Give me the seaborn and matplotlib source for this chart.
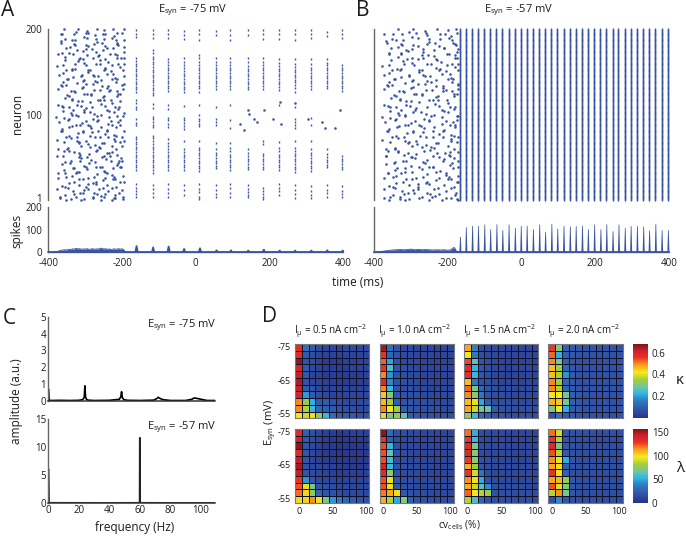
# Network raster, spectra and synchrony maps
import numpy as np
import pandas as pd
import matplotlib
matplotlib.use('Agg')
import matplotlib.pyplot as plt
import seaborn as sns
from matplotlib.colors import LinearSegmentedColormap
from matplotlib.transforms import ScaledTranslation

sns.set_theme(style='white')
plt.rcParams['font.family'] = ['Open Sans', 'DejaVu Sans']
plt.rcParams['mathtext.default'] = 'regular'
plt.rcParams['axes.linewidth'] = 0.8
plt.rcParams['axes.unicode_minus'] = False

# --- raster A: asynchronous part, spike times (ms) per neuron row
a_rows = [198, 192, 186, 180, 174, 168, 162, 156, 150, 144, 138, 132, 126, 120, 114, 108, 102,
          96, 90, 84, 78, 72, 66, 60, 54, 48, 42, 36, 30, 24, 18, 12, 6, 2]
a_async = [
    [-365, -352, -331, -318, -302, -287, -268, -257, -241, -226, -211, -200],
    [-359, -341, -326, -309, -296, -279, -263, -248, -233, -219, -203],
    [-371, -353, -337, -322, -301, -291, -274, -256, -243, -224, -212, -198],
    [-362, -347, -329, -316, -299, -284, -270, -251, -238, -220, -206, -196],
    [-368, -344, -335, -311, -293, -278, -261, -249, -229, -215, -201],
    [-372, -357, -339, -320, -306, -289, -272, -258, -236, -222, -208, -199],
    [-364, -349, -327, -314, -297, -281, -266, -246, -231, -217, -204],
    [-370, -355, -333, -324, -304, -292, -275, -254, -242, -225, -210, -198],
    [-361, -343, -330, -310, -298, -283, -264, -250, -234, -218, -203],
    [-367, -351, -336, -319, -302, -286, -269, -259, -239, -223, -207, -197],
    [-373, -358, -340, -325, -308, -295, -277, -262, -245, -228, -213, -200],
    [-363, -346, -332, -315, -300, -282, -267, -252, -235, -216, -205],
    [-369, -354, -338, -321, -305, -290, -273, -255, -240, -227, -209, -198],
    [-360, -345, -328, -312, -294, -280, -265, -247, -232, -221, -202],
    [-371, -356, -342, -323, -307, -288, -271, -260, -244, -230, -214, -199],
    [-365, -350, -334, -317, -301, -285, -276, -253, -237, -219, -204],
    [-374, -359, -344, -326, -309, -296, -279, -263, -248, -226, -211, -197],
    [-362, -347, -331, -313, -299, -284, -268, -251, -233, -217, -201],
    [-368, -353, -337, -320, -303, -291, -274, -257, -242, -224, -208, -198],
    [-372, -357, -341, -327, -310, -292, -278, -261, -246, -229, -215, -200],
    [-364, -348, -330, -316, -298, -283, -266, -249, -236, -220, -205],
    [-370, -352, -335, -322, -304, -287, -270, -256, -239, -225, -210, -197],
    [-361, -345, -328, -311, -295, -280, -263, -247, -231, -216, -202],
    [-373, -355, -339, -319, -306, -289, -273, -258, -243, -227, -212, -199],
    [-366, -350, -333, -315, -300, -285, -269, -252, -234, -221, -206],
    [-371, -358, -342, -325, -308, -293, -276, -260, -245, -230, -213, -198],
    [-363, -346, -329, -312, -297, -281, -264, -250, -235, -218, -203],
    [-369, -354, -336, -321, -305, -288, -272, -255, -240, -223, -208, -199],
    [-360, -343, -326, -314, -294, -279, -262, -246, -232, -219, -201],
    [-372, -356, -340, -323, -307, -290, -275, -259, -241, -226, -211, -197],
    [-365, -349, -332, -317, -299, -284, -267, -253, -237, -222, -204],
    [-370, -351, -338, -318, -302, -291, -271, -257, -244, -228, -209, -198],
    [-374, -357, -335, -324, -309, -286, -274, -261, -238, -225, -214, -200],
    [-367, -347, -330, -313, -296, -282, -265, -248, -233, -216, -202],
]
# the dots do not sit on rows: read-off offsets in ms and in neurons
dot_dt = [
    [3, -5, 6, -2, 7, -6, 1, 5, -7, 2, -4, 6],
    [-6, 4, -3, 7, -1, 5, -7, 3, 6, -4, 2, -5],
    [5, -2, 7, -6, 3, -4, 6, 1, -5, 7, -3, 2],
    [-3, 7, 1, -5, 6, 2, -7, 4, -2, 5, -6, 3],
    [6, -7, 2, 4, -5, 7, -1, -4, 5, -3, 6, -2],
    [-1, 3, -6, 5, 1, -7, 6, -3, 2, 7, -5, 4],
    [4, -5, 7, -2, -6, 3, 5, -1, -7, 6, 1, -4],
    [-7, 2, 5, -4, 6, -1, 3, 7, -6, -2, 4, 5],
    [2, 6, -5, 1, 7, -4, -2, 5, 3, -7, 6, -1],
    [-5, 1, 4, 7, -3, 6, -6, 2, -1, 5, -7, 3],
    [7, -3, -6, 2, 5, -2, 4, -5, 7, 1, -4, 6],
    [1, -6, 3, 6, -7, 4, 7, -2, -5, 3, 5, -3],
    [-4, 5, -1, -7, 2, 6, -3, 7, 4, -6, -2, 1],
    [6, 2, -7, 4, -1, -5, 5, -6, 3, 7, -3, -2],
    [-2, -4, 6, 3, -5, 1, 7, 4, -6, 2, 5, -7],
    [3, 7, 1, -6, 4, -3, -5, 6, 2, -1, -7, 5],
    [-6, -1, 5, 2, 7, -7, 3, -4, 6, 4, -2, 1],
    [5, 3, -4, -7, 1, 6, 2, -6, -3, 7, 4, -5],
    [-3, 6, 2, 5, -6, -2, 7, 1, 4, -5, 3, -7],
    [7, -5, -2, 1, 3, 5, -6, -4, 6, 2, -1, 4],
    [2, 4, 7, -3, -7, 1, 6, 3, -5, -2, 5, -6],
    [-7, 1, -3, 6, 5, -1, -4, 7, 2, 4, -6, 3],
    [4, -2, 6, -5, 2, 7, 1, -7, 5, -3, -4, 6],
    [-1, 5, -6, 3, -4, 2, 6, -3, 7, 1, -5, -2],
    [6, -7, 4, 1, 5, -5, -2, 2, -6, 7, 3, -4],
    [-5, 2, 3, 7, -2, 4, -7, 6, 1, -4, 5, -1],
    [1, 6, -4, -1, -6, 7, 3, -5, 4, 5, -7, 2],
    [-4, -3, 7, 4, 6, -6, 2, 5, -2, -1, 3, -5],
    [5, 7, 1, -7, 3, 2, -5, -1, 6, -6, 4, 7],
    [-2, 4, -5, 6, 1, -3, 5, 7, -4, 3, -7, 2],
    [3, -6, 2, -1, 7, 5, -4, 1, -3, 6, -2, -5],
    [-6, 5, 6, 3, -2, -7, 4, -5, 7, 2, 1, -3],
    [7, 1, -3, -5, 4, 6, -1, 3, -7, 5, -6, 2],
    [-1, -4, 5, 2, -6, 3, 7, -2, 6, -5, 4, 1],
]
dot_dn = [
    [-3, 2, -1, 3, 0, -2, 4, -4, 1, 3, -2, 2],
    [2, -4, 3, -1, 4, 1, -3, 2, -2, 0, 4, -3],
    [0, 3, -3, 2, -4, 4, -1, -2, 3, 1, -3, 2],
    [4, -1, 2, -4, 1, -3, 3, 0, -2, 4, 2, -1],
    [-2, 4, -3, 1, 3, -1, -4, 2, 4, -3, 0, 3],
    [3, 0, 4, -2, -3, 2, 1, -4, 3, -1, 2, -2],
    [-4, 2, 1, 3, -1, 4, -2, 3, 0, -3, 4, 1],
    [1, -3, -2, 4, 2, -4, 3, -1, -3, 2, 0, 4],
    [-1, 4, 3, -3, 0, 2, -4, 4, 1, -2, 3, -3],
    [3, -2, 0, 2, -4, 3, 1, -3, 4, -1, -2, 2],
    [-3, 1, 4, -1, 3, -2, 2, 0, -4, 4, 1, -2],
    [2, 3, -4, 0, 1, 4, -3, 2, -1, -4, 3, 0],
    [4, -3, 2, 1, -2, -1, 3, -4, 2, 3, -1, 4],
    [0, 2, -1, -4, 4, 3, -2, 1, -3, 2, 4, -3],
    [-2, -4, 3, 2, -3, 1, 4, -1, 3, 0, -4, 2],
    [3, 1, -2, 4, 0, -4, 2, 3, -3, 1, -1, 4],
    [-4, 3, 0, -2, 2, 4, -1, -3, 4, 2, -3, 1],
    [1, -1, 4, 3, -3, 0, -2, 4, 2, -4, 3, -1],
    [2, 4, -3, -1, 1, -2, 3, -4, 0, 3, -2, 4],
    [-3, 0, 2, 4, -4, 3, 1, -2, -1, 4, 2, -3],
    [4, -2, -4, 1, 3, 2, -3, 0, 4, -1, -3, 2],
    [-1, 3, 1, -3, -2, 4, 2, -4, 3, 0, 4, -2],
    [3, -4, 4, 2, 0, -1, -3, 1, -2, 4, 3, -3],
    [0, 1, -2, -4, 4, 3, -1, 2, -4, -3, 1, 4],
    [-2, 4, 3, 0, -3, 1, 4, -2, 2, -1, -4, 3],
    [4, -3, -1, 3, 2, -4, 0, 3, 1, 4, -2, -1],
    [1, 2, -4, 4, -1, 3, -3, -2, 4, 0, 2, -4],
    [-4, 0, 2, -2, 3, 1, 4, -1, -3, 2, 3, 4],
    [2, -1, 3, 4, -3, -2, 1, 4, 0, -4, -1, 3],
    [3, 4, -3, 1, 2, -4, -2, 0, 3, 4, 1, -2],
    [-1, -2, 4, 0, -4, 3, 2, -3, 1, -2, 4, 3],
    [2, 3, 0, -3, 1, 4, -4, 2, -1, 3, -3, 1],
    [-2, 1, -4, 2, 3, -1, 3, 0, 2, -3, 1, -1],
    [1, -1, 2, -2, 0, 1, -1, 2, -2, 1, 0, -1],
]

# synchronous part of A: burst times and the neurons firing in each burst
a_burst_t = [-162, -117, -75, -33, 10, 55, 94, 141, 183, 226, 268, 312, 355, 397]
a_burst_n = [
    [199, 195, 191, 166, 163, 160, 157, 154, 151, 148, 145, 142, 139, 136, 133, 130, 127, 117, 114, 110, 107,
     95, 91, 88, 75, 72, 69, 66, 63, 60, 57, 54, 51, 48, 45, 42, 39, 36, 20, 15, 11, 8, 4],
    [199, 195, 190, 176, 172, 168, 165, 162, 159, 156, 153, 150, 147, 144, 141, 138, 135, 132, 129, 126, 123,
     113, 108, 98, 95, 92, 89, 86, 76, 73, 70, 66, 63, 60, 57, 54, 51, 48, 45, 42, 39, 36, 33, 19, 14, 9, 5],
    [199, 194, 190, 165, 162, 158, 155, 152, 149, 146, 143, 140, 137, 134, 131, 128, 112, 107, 97, 94, 90, 86,
     72, 68, 64, 60, 57, 54, 51, 48, 45, 42, 39, 36, 20, 14, 9, 4],
    [198, 193, 189, 166, 162, 158, 155, 151, 148, 145, 142, 139, 136, 133, 130, 127, 111, 97, 94, 91, 87, 84,
     70, 60, 57, 54, 51, 48, 45, 42, 39, 36, 18, 13, 7],
    [199, 194, 188, 170, 166, 162, 158, 155, 152, 149, 146, 143, 140, 137, 134, 131, 127, 112, 100, 96, 93, 90, 87,
     70, 62, 59, 56, 53, 50, 47, 44, 41, 38, 35, 20, 14, 10, 5, 2],
    [198, 193, 166, 162, 158, 155, 152, 149, 146, 143, 140, 137, 134, 130, 110, 96, 92, 88, 68,
     60, 56, 53, 50, 47, 44, 41, 38, 18, 13, 8, 4],
    [199, 193, 188, 166, 162, 158, 155, 152, 149, 146, 143, 140, 137, 134, 130, 112, 94, 85,
     68, 62, 58, 54, 51, 48, 45, 42, 39, 36, 20, 15, 9, 5],
    [199, 193, 166, 162, 157, 154, 151, 148, 145, 142, 139, 136, 133, 130, 60, 56, 52, 49, 46, 43, 40, 37,
     18, 14, 10, 7, 4],
    [199, 194, 189, 166, 162, 158, 155, 152, 149, 146, 143, 140, 137, 134, 130, 70, 66, 55, 52, 49, 46, 43, 40, 37,
     15, 11, 8, 5, 2],
    [199, 195, 189, 165, 161, 157, 154, 151, 148, 145, 142, 139, 136, 133, 129, 112, 69, 62, 58, 54, 51, 48, 45,
     42, 39, 36, 20, 15, 11, 7],
    [199, 194, 187, 165, 160, 156, 153, 150, 147, 144, 141, 138, 135, 131, 127, 110, 96, 92, 88, 85,
     70, 62, 58, 55, 52, 49, 46, 43, 40, 37, 34, 18, 13, 8, 3],
    [199, 194, 190, 165, 160, 155, 152, 149, 146, 143, 140, 137, 134, 130, 97, 88, 70, 60, 56, 53, 50, 47, 44,
     41, 38, 35, 17, 12, 7, 3],
    [197, 192, 165, 161, 158, 155, 152, 149, 146, 143, 140, 137, 134, 131, 60, 55, 51, 48, 45, 42, 39,
     18, 13, 9, 5],
    [199, 195, 190, 158, 155, 152, 149, 146, 143, 140, 137, 134, 131, 128, 52, 49, 46, 43, 40, 37, 17, 12, 8, 4],
]
a_stray_t = [120, 132, 142, 145, 158, 165, 186, 210, 231, 228, 269, 305, 341, 350, 377, 391]
a_stray_n = [90, 83, 106, 101, 95, 92, 106, 95, 90, 115, 114, 95, 92, 85, 85, 106]

# --- raster B
b_rows = a_rows
b_async = [
    [-352, -331, -310, -292, -270, -252, -231, -212, -192, -180],
    [-368, -345, -322, -304, -285, -262, -244, -223, -203, -186, -176],
    [-372, -350, -335, -316, -296, -276, -257, -236, -216, -196, -178],
    [-362, -341, -326, -307, -288, -268, -248, -228, -208, -190, -172],
    [-366, -347, -330, -312, -292, -273, -253, -233, -214, -193, -181, -170],
    [-358, -338, -320, -301, -283, -263, -242, -225, -204, -187, -174],
    [-364, -349, -328, -309, -290, -270, -250, -231, -211, -195, -177],
    [-370, -352, -333, -315, -297, -277, -258, -238, -218, -199, -183, -169],
    [-360, -343, -324, -305, -286, -265, -246, -226, -207, -188, -173],
    [-367, -348, -331, -311, -293, -274, -255, -235, -215, -197, -179],
    [-372, -355, -337, -318, -299, -280, -260, -240, -221, -201, -185, -171],
    [-363, -344, -325, -306, -287, -267, -249, -229, -209, -191, -175],
    [-369, -351, -332, -313, -294, -275, -256, -234, -217, -198, -182, -168],
    [-361, -342, -323, -303, -284, -264, -245, -227, -206, -189, -173],
    [-371, -353, -336, -317, -298, -279, -259, -239, -220, -200, -184],
    [-365, -346, -327, -308, -289, -269, -251, -230, -212, -192, -176],
    [-373, -356, -339, -319, -300, -281, -261, -241, -222, -202, -170],
    [-362, -343, -329, -310, -291, -271, -252, -232, -213, -194, -178],
    [-368, -350, -334, -314, -295, -276, -257, -237, -219, -199, -182, -167],
    [-372, -354, -335, -316, -296, -278, -258, -236, -216, -197, -180],
    [-364, -345, -326, -307, -288, -268, -247, -228, -208, -190, -172],
    [-370, -351, -332, -312, -292, -273, -254, -233, -214, -195, -177],
    [-360, -341, -323, -304, -285, -266, -246, -226, -205, -187, -170],
    [-367, -349, -330, -311, -293, -272, -253, -235, -215, -196, -179],
    [-373, -355, -338, -320, -301, -282, -262, -242, -224, -203, -185, -168],
    [-363, -344, -325, -306, -286, -267, -248, -229, -210, -191, -174],
    [-369, -352, -333, -313, -294, -275, -255, -234, -217, -198, -181],
    [-358, -340, -322, -302, -283, -263, -243, -225, -204, -186, -171],
    [-366, -348, -329, -309, -290, -270, -250, -231, -211, -193, -176],
    [-371, -353, -336, -318, -298, -279, -260, -239, -220, -200, -183, -169],
    [-361, -342, -324, -305, -287, -265, -246, -227, -207, -189, -173],
    [-368, -347, -331, -310, -291, -274, -252, -232, -213, -194, -178],
    [-364, -350, -327, -315, -296, -277, -256, -237, -218, -197, -175],
    [-372, -354, -335, -319, -299, -281, -259, -241, -221, -201, -180, -168],
]
b_burst_t = [-167, -151, -134, -118, -101, -85, -68, -52, -35, -18, -2, 14, 31, 48, 64, 81, 97, 114, 131,
             147, 164, 180, 197, 214, 230, 247, 263, 280, 296, 313, 330, 346, 363, 380, 397]
b_neurons = list(range(1, 201))

# --- population spike counts
a_hist_t = [-385, -375, -370, -365, -360, -355, -350, -345, -340, -335, -330, -325, -320, -315, -310, -305, -300,
            -295, -290, -285, -280, -275, -270, -265, -260, -255, -250, -245, -240, -235, -230, -225, -220,
            -215, -210, -205, -200, -196, -192]
a_hist_y = [0, 2, 6, 8, 9, 10, 9, 12, 11, 14, 13, 16, 14, 15, 12, 14, 13, 15, 12, 13, 15, 12, 14, 13, 16, 17, 13, 15,
            12, 14, 11, 13, 14, 12, 15, 13, 14, 12, 0]
a_peak_h = [32, 26, 30, 19, 22, 13, 13, 12, 16, 12, 12, 12, 13, 12]

b_hist_t = [-395, -380, -370, -360, -350, -340, -330, -320, -310, -300, -290, -280, -270, -260, -250, -240, -230,
            -220, -210, -200, -192, -186, -182, -178, -172]
b_hist_y = [0, 2, 5, 7, 9, 10, 11, 10, 11, 13, 10, 12, 10, 11, 10, 9, 10, 9, 10, 8, 10, 18, 20, 6, 2]
b_peak_h = [70, 113, 119, 119, 125, 104, 126, 100, 125, 110, 119, 119, 104, 125, 92, 128, 107, 119, 116, 118,
            120, 104, 125, 104, 126, 95, 125, 110, 118, 118, 116, 98, 128, 100, 100]

# --- spectra
c_top_f = [0, 0.2, 0.5, 2, 8, 14, 20, 22.5, 23.5, 24, 24.4, 25, 26, 30, 40, 46.5, 47.5, 48, 48.5, 49.5, 52, 60,
           69, 71, 72, 73, 75, 80, 90, 94, 95.5, 97, 99, 104, 109]
c_top_a = [0.7, 0.7, 0.05, 0.03, 0.04, 0.03, 0.04, 0.08, 0.2, 0.9, 0.25, 0.1, 0.05, 0.03, 0.04, 0.1, 0.25, 0.55, 0.2,
           0.08, 0.04, 0.03, 0.05, 0.14, 0.22, 0.16, 0.08, 0.03, 0.03, 0.1, 0.18, 0.16, 0.12, 0.03, 0.03]
c_bot_f = [0, 0.2, 0.5, 40, 59.8, 59.9, 60.1, 60.2, 80, 109]
c_bot_a = [6.1, 6.1, 0.1, 0.08, 0.1, 11.7, 11.7, 0.1, 0.08, 0.08]

# --- synchrony maps, rows Esyn -75..-55, columns cv 0..100 %
kappa_05 = [
    [.58, .14, .09, .06, .05, .05, .05, .06, .06, .06, .06],
    [.58, .10, .07, .05, .04, .04, .04, .05, .05, .05, .05],
    [.66, .08, .07, .04, .03, .03, .03, .04, .04, .04, .05],
    [.60, .10, .06, .04, .03, .03, .03, .03, .04, .04, .04],
    [.62, .09, .05, .04, .03, .03, .03, .03, .03, .03, .04],
    [.64, .08, .05, .05, .04, .03, .03, .03, .03, .03, .03],
    [.62, .10, .08, .05, .04, .04, .04, .04, .04, .04, .04],
    [.60, .20, .10, .07, .06, .05, .05, .05, .05, .05, .05],
    [.50, .33, .22, .10, .10, .08, .07, .06, .06, .06, .06],
    [.50, .36, .24, .12, .11, .09, .08, .07, .07, .06, .06],
    [.42, .38, .43, .32, .23, .13, .11, .10, .09, .08, .08],
]
kappa_10 = [
    [.65, .14, .08, .06, .06, .05, .05, .05, .05, .05, .05],
    [.56, .12, .08, .06, .06, .05, .05, .05, .05, .05, .05],
    [.52, .21, .08, .06, .06, .06, .05, .05, .05, .05, .05],
    [.56, .26, .08, .07, .06, .06, .05, .05, .05, .05, .05],
    [.50, .19, .08, .07, .06, .06, .05, .05, .05, .05, .05],
    [.58, .18, .08, .07, .06, .06, .05, .05, .05, .05, .05],
    [.50, .24, .08, .07, .07, .06, .06, .05, .05, .05, .05],
    [.45, .32, .09, .08, .07, .07, .06, .06, .06, .06, .06],
    [.46, .35, .10, .08, .08, .07, .07, .06, .06, .06, .06],
    [.50, .42, .34, .10, .08, .08, .07, .07, .07, .06, .06],
    [.40, .31, .33, .27, .10, .09, .08, .08, .08, .07, .07],
]
kappa_15 = [
    [.48, .17, .07, .06, .06, .06, .05, .05, .05, .05, .05],
    [.42, .16, .07, .06, .06, .05, .05, .05, .05, .05, .05],
    [.54, .27, .09, .07, .06, .05, .05, .05, .05, .05, .05],
    [.58, .23, .09, .07, .06, .05, .04, .05, .05, .05, .05],
    [.57, .23, .09, .07, .05, .05, .04, .05, .05, .05, .05],
    [.46, .16, .08, .07, .06, .05, .05, .05, .05, .05, .05],
    [.52, .30, .12, .08, .07, .06, .06, .06, .06, .06, .06],
    [.50, .32, .16, .08, .07, .07, .06, .06, .06, .06, .06],
    [.46, .40, .21, .10, .07, .07, .07, .07, .06, .06, .06],
    [.48, .38, .30, .28, .10, .08, .07, .07, .07, .07, .07],
    [.33, .24, .13, .10, .08, .08, .07, .07, .07, .07, .07],
]
kappa_20 = [
    [.55, .31, .11, .09, .09, .08, .08, .08, .08, .08, .08],
    [.52, .22, .11, .09, .08, .08, .08, .08, .08, .08, .08],
    [.50, .30, .11, .09, .08, .08, .08, .08, .08, .08, .08],
    [.46, .34, .12, .09, .08, .08, .08, .08, .08, .08, .08],
    [.46, .36, .19, .10, .08, .08, .08, .08, .08, .08, .08],
    [.50, .34, .12, .09, .08, .08, .08, .08, .08, .08, .08],
    [.50, .36, .12, .09, .08, .08, .08, .08, .08, .08, .08],
    [.42, .42, .30, .11, .09, .08, .08, .08, .08, .08, .08],
    [.47, .45, .30, .11, .09, .08, .08, .08, .08, .08, .08],
    [.30, .42, .22, .10, .09, .08, .08, .08, .08, .08, .08],
    [.08, .14, .10, .09, .08, .08, .08, .08, .08, .08, .08],
]
lambda_05 = [
    [135, 25, 18, 12, 8, 7, 6, 7, 8, 8, 8],
    [140, 22, 16, 10, 7, 5, 5, 5, 6, 6, 6],
    [155, 20, 14, 8, 6, 5, 4, 5, 5, 5, 5],
    [135, 20, 14, 9, 6, 5, 4, 4, 5, 5, 5],
    [145, 20, 12, 9, 7, 5, 5, 5, 5, 5, 5],
    [150, 18, 12, 12, 10, 8, 7, 6, 5, 5, 5],
    [145, 20, 15, 12, 10, 9, 8, 8, 9, 8, 8],
    [130, 45, 20, 14, 12, 12, 10, 10, 10, 10, 10],
    [125, 100, 70, 20, 18, 15, 14, 13, 12, 12, 12],
    [120, 102, 75, 28, 20, 18, 16, 14, 13, 13, 12],
    [100, 102, 115, 95, 70, 45, 38, 28, 22, 18, 16],
]
lambda_10 = [
    [155, 30, 18, 15, 14, 13, 12, 12, 12, 12, 12],
    [130, 25, 16, 14, 13, 12, 12, 12, 12, 12, 12],
    [125, 55, 18, 14, 13, 12, 12, 12, 12, 12, 12],
    [125, 65, 18, 15, 13, 12, 12, 12, 12, 12, 12],
    [125, 58, 17, 15, 14, 13, 12, 12, 12, 12, 12],
    [140, 55, 17, 15, 14, 13, 12, 12, 12, 12, 12],
    [135, 75, 18, 15, 14, 14, 13, 12, 12, 12, 12],
    [125, 95, 20, 16, 15, 14, 13, 13, 13, 13, 13],
    [125, 100, 20, 17, 15, 14, 14, 13, 13, 13, 13],
    [118, 112, 100, 22, 18, 16, 15, 14, 14, 14, 14],
    [110, 85, 50, 72, 25, 18, 16, 15, 15, 15, 15],
]
lambda_15 = [
    [120, 50, 15, 14, 14, 13, 12, 12, 12, 12, 12],
    [128, 55, 15, 14, 13, 13, 12, 12, 12, 12, 12],
    [135, 70, 16, 14, 13, 13, 12, 12, 12, 12, 12],
    [135, 72, 16, 14, 13, 13, 12, 12, 12, 12, 12],
    [128, 75, 18, 15, 14, 13, 12, 12, 12, 12, 12],
    [110, 80, 20, 15, 14, 13, 13, 13, 13, 13, 13],
    [130, 90, 35, 16, 14, 14, 13, 13, 13, 13, 13],
    [115, 100, 50, 18, 15, 14, 14, 14, 14, 14, 14],
    [110, 88, 62, 42, 18, 15, 15, 15, 15, 14, 14],
    [122, 98, 85, 80, 18, 16, 16, 15, 15, 15, 15],
    [85, 60, 28, 16, 15, 15, 15, 15, 15, 15, 15],
]
lambda_20 = [
    [120, 90, 20, 18, 18, 17, 17, 17, 17, 17, 17],
    [130, 85, 20, 17, 17, 17, 16, 16, 16, 16, 16],
    [135, 70, 20, 17, 16, 16, 16, 16, 16, 16, 16],
    [125, 85, 22, 17, 16, 16, 16, 16, 16, 16, 16],
    [115, 95, 50, 20, 16, 16, 16, 16, 16, 16, 16],
    [112, 100, 25, 18, 16, 16, 16, 16, 16, 16, 16],
    [130, 100, 25, 18, 16, 16, 16, 16, 16, 16, 16],
    [112, 108, 78, 22, 17, 16, 16, 16, 16, 16, 16],
    [125, 92, 72, 22, 17, 16, 16, 16, 16, 16, 16],
    [85, 115, 70, 20, 16, 16, 16, 16, 16, 16, 16],
    [18, 42, 20, 15, 15, 15, 15, 15, 15, 15, 15],
]
col_titles = ['0.5', '1.0', '1.5', '2.0']

W, H = 686, 537
BLUE = '#3a54a4'
GRAY = '#666666'
INK = '#1c1c1c'
FS = 7

# print-style jet
map_cmap = LinearSegmentedColormap.from_list('printjet', [
    (0, '#283382'), (.05, '#2b4096'), (.12, '#3154a8'), (.25, '#2f7fc1'), (.33, '#2cb5e8'), (.42, '#6cc5a8'),
    (.52, '#a5cd39'), (.62, '#f6ea1c'), (.72, '#f9a11b'), (.82, '#ee3124'), (.92, '#c8202a'), (1, '#7e1518')])


def box(left, top, right, bottom):
    return [left / W, 1 - bottom / H, (right - left) / W, (bottom - top) / H]


def txt(x, y, s, **kw):
    kw.setdefault('fontsize', 8.5)
    kw.setdefault('ha', 'center')
    kw.setdefault('va', 'center')
    kw.setdefault('color', INK)
    fig.text(x / W, 1 - y / H, s, **kw)


def style(ax):
    for side in ['left', 'bottom']:
        ax.spines[side].set_color(GRAY)
        ax.spines[side].set_linewidth(1.0)
    ax.tick_params(colors=INK, labelsize=FS, length=3, width=0.7, color=GRAY, pad=1.5)
    ax.set_xlabel('')
    ax.set_ylabel('')


fig = plt.figure(figsize=(W / 100, H / 100), dpi=100)


def raster(left, right, rows, async_t, t_max, burst_t, burst_n, stray_t, stray_n, labels):
    ts, ns = [], []
    for n, times, dts, dns in zip(rows, async_t, dot_dt, dot_dn):
        for t, dt, dn in zip(times, dts, dns):
            ts.append(min(t + dt, t_max))
            ns.append(n + dn)
    dots = pd.DataFrame({'t': ts + stray_t, 'neuron': np.clip(ns + stray_n, 1, 200)})
    ax = fig.add_axes(box(left, 29.3, right, 200))
    sns.scatterplot(data=dots, x='t', y='neuron', color=BLUE, s=3.4, linewidth=0, ax=ax, clip_on=False)
    # bursts as short ticks so that dense bands read as solid streaks
    bt, bn = [], []
    for t, neurons in zip(burst_t, burst_n):
        bt += [t] * len(neurons)
        bn += neurons
    bursts = pd.DataFrame({'t': bt, 'neuron': bn})
    sns.scatterplot(data=bursts, x='t', y='neuron', color=BLUE, s=3.5, marker='|', linewidth=1.0, ax=ax, clip_on=False)
    ax.set_xlim(-400, 400)
    ax.set_ylim(1, 200)
    ax.set_yticks([1, 50, 100, 150, 200])
    ax.set_yticklabels(['1', '', '100', '', '200'] if labels else [])
    ax.set_xticks([])
    sns.despine(ax=ax, bottom=True)
    style(ax)
    if labels:
        # keep the "1" clear of the "200" of the panel below
        one = ax.get_yticklabels()[0]
        one.set_transform(one.get_transform() + ScaledTranslation(0, 2 / 100, fig.dpi_scale_trans))
    return ax


def counts(left, right, hist_t, hist_y, peak_t, peak_h, width, labels):
    ax = fig.add_axes(box(left, 207.3, right, 252))
    sns.lineplot(x=hist_t, y=hist_y, color=BLUE, lw=0.6, ax=ax)
    ax.fill_between(hist_t, hist_y, color=BLUE, lw=0)
    for t, h in zip(peak_t, peak_h):
        ax.fill_between([t - width, t - width / 3, t + width / 3, t + width], [0, h, h, 0], color=BLUE, lw=0)
    ax.plot([-400, 400], [0, 0], color=BLUE, lw=1.3, clip_on=False, zorder=5)
    ax.set_xlim(-400, 400)
    ax.set_ylim(0, 200)
    ax.set_xticks([-400, -200, 0, 200, 400])
    ax.set_yticks([0, 50, 100, 150, 200])
    ax.set_yticklabels(['0', '', '100', '', '200'] if labels else [])
    sns.despine(ax=ax)
    style(ax)
    ax.tick_params(axis='x', length=0, pad=4)
    return ax


raster(48.3, 343.3, a_rows, a_async, -196, a_burst_t, a_burst_n, a_stray_t, a_stray_n, True)
raster(374, 669, b_rows, b_async, -172, b_burst_t, [b_neurons] * len(b_burst_t), [], [], False)
counts(48.3, 343.3, a_hist_t, a_hist_y, a_burst_t, a_peak_h, 6, True)
counts(374, 669, b_hist_t, b_hist_y, b_burst_t, b_peak_h, 2.8, False)

# spectra
ax_top = fig.add_axes(box(48.3, 316.7, 214.7, 401))
sns.lineplot(x=c_top_f, y=c_top_a, color='black', lw=1.2, ax=ax_top)
ax_top.set_ylim(0, 5)
ax_top.set_yticks(range(6))
ax_bot = fig.add_axes(box(48.3, 419.3, 214.7, 503.3))
sns.lineplot(x=c_bot_f, y=c_bot_a, color='#222222', lw=1.2, ax=ax_bot)
ax_bot.set_ylim(0, 15)
ax_bot.set_yticks([0, 5, 10, 15])
for ax in [ax_top, ax_bot]:
    ax.set_xlim(0, 109)
    ax.set_xticks(range(0, 101, 20))
    sns.despine(ax=ax)
    style(ax)
    ax.tick_params(direction='in', length=3)
    ax.spines['bottom'].set_color('#333333')
    ax.spines['bottom'].set_linewidth(1.1)
ax_top.set_xticklabels([])
ax_top.tick_params(axis='x', labelbottom=False)

# synchrony maps
col_x = [(295.3, 369.3), (379.7, 453.7), (464, 538.3), (548.3, 622.7)]
rows_d = [((344.3, 418.3), [kappa_05, kappa_10, kappa_15, kappa_20], 0.0, 0.675, [0.2, 0.4, 0.6]),
          ((429, 502.7), [lambda_05, lambda_10, lambda_15, lambda_20], 0, 157, [0, 50, 100, 150])]
for r, ((top, bottom), mats, vmin, vmax, cticks) in enumerate(rows_d):
    cax = fig.add_axes(box(633.3, top, 647.7, bottom))
    for c, (left, right) in enumerate(col_x):
        ax = fig.add_axes(box(left, top, right, bottom))
        sns.heatmap(np.array(mats[c]), cmap=map_cmap, vmin=vmin, vmax=vmax, linewidths=0.5, linecolor='#101028',
                    ax=ax, cbar=c == 3, cbar_ax=cax if c == 3 else None, square=False)
        ax.tick_params(length=0, labelsize=FS - 0.5, colors=INK, pad=3)
        ax.set_xticks([0.5, 5.5, 10.5])
        ax.set_xticklabels(['0', '50', '100'] if r == 1 else [], rotation=0)
        ax.set_yticks([0.5, 5.5, 10.5])
        ax.set_yticklabels(['-75', '-65', '-55'] if c == 0 else [], rotation=0)
        for spine in ax.spines.values():
            spine.set_visible(True)
            spine.set_color('#777777')
            spine.set_linewidth(0.8)
    cax.set_yticks(cticks)
    cax.tick_params(length=0, labelsize=FS, colors=INK, pad=3)

# texts
txt(8, 10, 'A', fontsize=15)
txt(363, 10, 'B', fontsize=15)
txt(9, 318, 'C', fontsize=15)
txt(269, 316, 'D', fontsize=15)
txt(193, 10, r'E$_{syn}$ = -75 mV', fontsize=8)
txt(519, 10, r'E$_{syn}$ = -57 mV', fontsize=8)
txt(17, 114, 'neuron', rotation=90)
txt(17, 231, 'spikes', rotation=90)
txt(358, 283, 'time (ms)')
txt(182, 325, r'E$_{syn}$ = -75 mV', fontsize=8)
txt(182, 427, r'E$_{syn}$ = -57 mV', fontsize=8)
txt(17, 401, 'amplitude (a.u.)', rotation=90)
txt(135, 528, 'frequency (Hz)')
for (left, right), val in zip(col_x, col_titles):
    txt((left + right) / 2 - 2, 331, r'I$_{\mu}$ = ' + val + r' nA cm$^{-2}$', fontsize=7.1)
txt(270, 423, r'E$_{syn}$ (mV)', rotation=90, fontsize=8)
txt(459, 525, r'cv$_{cells}$ (%)', fontsize=7.2)
txt(680, 381, 'κ', fontsize=11)
txt(680, 468, 'λ', fontsize=11)

fig.savefig('out.png', dpi=100)
